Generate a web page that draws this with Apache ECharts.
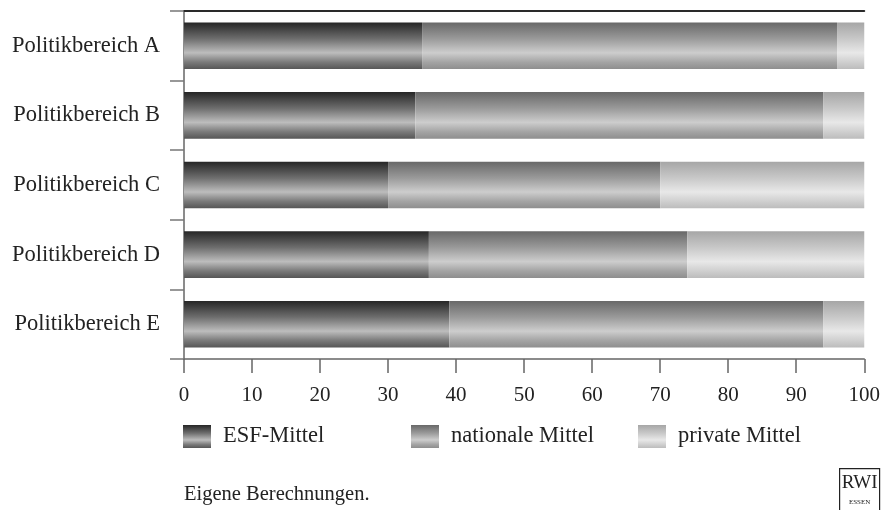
<!DOCTYPE html>
<html>
<head>
<meta charset="utf-8">
<script src="https://cdn.jsdelivr.net/npm/echarts@6/dist/echarts.min.js"></script>
<style>
html,body{margin:0;padding:0;background:#fff;}
#chart{width:883px;height:510px;}
</style>
</head>
<body>
<div id="chart"></div>
<script>
var categories = ['Politikbereich A', 'Politikbereich B', 'Politikbereich C', 'Politikbereich D', 'Politikbereich E'];
var esfMittel = [35, 34, 30, 36, 39];
var nationaleMittel = [61, 60, 40, 38, 55];
var privateMittel = [4, 6, 30, 26, 6];
var xTicks = [0, 10, 20, 30, 40, 50, 60, 70, 80, 90, 100];
var seriesNames = ['ESF-Mittel', 'nationale Mittel', 'private Mittel'];

var FONT = '"Liberation Serif", "DejaVu Serif", serif';
var TXT = '#222';

function grad(c0, c1, c2, c3, c4) {
  return new echarts.graphic.LinearGradient(0, 0, 0, 1, [
    {offset: 0, color: c0},
    {offset: 0.35, color: c1},
    {offset: 0.65, color: c2},
    {offset: 0.85, color: c3},
    {offset: 1, color: c4}
  ]);
}
var colors = [
  grad('#262626', '#6e6e6e', '#bdbdbd', '#7a7a7a', '#565656'),
  grad('#686868', '#9a9a9a', '#cdcdcd', '#a4a4a4', '#8e8e8e'),
  grad('#a6a6a6', '#c8c8c8', '#e8e8e8', '#cfcfcf', '#bcbcbc')
];
var seriesData = [esfMittel, nationaleMittel, privateMittel];

var chart = echarts.init(document.getElementById('chart'));
var legendLeft = [183, 411, 638];

var option = {
  animation: false,
  backgroundColor: '#fff',
  title: {
    text: 'Eigene Berechnungen.',
    left: 184, top: 484, padding: 0,
    textStyle: {fontFamily: FONT, fontSize: 20.5, fontWeight: 'normal', color: TXT}
  },
  legend: seriesNames.map(function (n, i) {
    return {
      data: [{name: n, icon: 'rect'}], left: legendLeft[i], top: 425, padding: 0,
      itemWidth: 28, itemHeight: 23,
      textStyle: {fontFamily: FONT, fontSize: 22.5, color: TXT, padding: [0, 0, 0, 7]},
      selectedMode: false
    };
  }),
  grid: {left: 184, right: 18, top: 11, bottom: 151, containLabel: false},
  xAxis: [{
    type: 'value', min: 0, max: 100, interval: 10, position: 'bottom',
    axisLine: {show: true, lineStyle: {color: '#666', width: 1.5}},
    axisTick: {show: true, length: 14, lineStyle: {color: '#666', width: 1.5}},
    axisLabel: {
      fontFamily: FONT, fontSize: 21, color: TXT, margin: 26,
      formatter: function (v) { return xTicks.indexOf(v) >= 0 ? String(v) : ''; }
    },
    splitLine: {show: false}
  }, {
    type: 'value', min: 0, max: 100, position: 'top',
    axisLine: {show: true, lineStyle: {color: '#2a2a2a', width: 2}},
    axisTick: {show: false}, axisLabel: {show: false}, splitLine: {show: false}
  }],
  yAxis: [{
    type: 'category', data: categories, inverse: true, position: 'left',
    axisLine: {show: true, lineStyle: {color: '#777', width: 1.5}},
    axisTick: {show: true, length: 14, lineStyle: {color: '#777', width: 1.5}},
    axisLabel: {fontFamily: FONT, fontSize: 22.5, color: TXT, margin: 24}
  }, {
    type: 'category', data: categories, inverse: true, position: 'right',
    axisLine: {show: true, lineStyle: {color: '#888', width: 1.5}},
    axisTick: {show: false}, axisLabel: {show: false}
  }],
  series: seriesNames.map(function (n, i) {
    return {
      name: n, type: 'bar', stack: 'total', barWidth: '67%',
      xAxisIndex: 0, yAxisIndex: 0,
      data: seriesData[i],
      itemStyle: {color: colors[i]},
      emphasis: {disabled: true}
    };
  }),
  graphic: [{
    type: 'group', left: 839, top: 468,
    children: [
      {type: 'rect', shape: {x: 0, y: 0, width: 40, height: 48},
       style: {fill: '#fff', stroke: '#222', lineWidth: 1.2}},
      {type: 'text', x: 20, y: 5,
       style: {text: 'RWI', fontFamily: FONT, fontSize: 19, fill: TXT, align: 'center', verticalAlign: 'top'}},
      {type: 'text', x: 20, y: 30,
       style: {text: 'ESSEN', fontFamily: FONT, fontSize: 7, fill: TXT, align: 'center', verticalAlign: 'top'}}
    ]
  }]
};
chart.setOption(option);
</script>
</body>
</html>
